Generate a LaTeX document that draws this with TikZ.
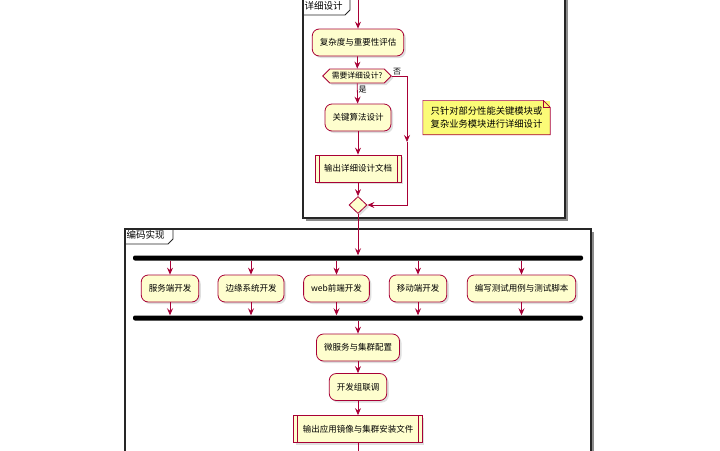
\documentclass[tikz,border=0pt]{standalone}
\usepackage{fontspec}
\setmainfont{Noto Sans CJK SC}
\usetikzlibrary{arrows.meta,shapes.geometric,shapes.symbols,shadows}
\definecolor{umlred}{HTML}{A80036}
\definecolor{umlfill}{HTML}{FEFECE}
\definecolor{notefill}{HTML}{FBFB77}
\tikzset{
  act/.style={draw=umlred, fill=umlfill, line width=0.8pt, rounded corners=7pt,
    minimum height=27pt, inner xsep=7.5pt, inner ysep=3pt,
    font=\fontsize{8.5}{10}\selectfont,
    drop shadow={shadow xshift=2pt, shadow yshift=-2pt, opacity=0.25}},
  outbox/.style={act, rounded corners=0pt, inner xsep=9pt,
    path picture={\draw[umlred, line width=0.8pt]
      ([xshift=4pt]path picture bounding box.north west) -- ([xshift=4pt]path picture bounding box.south west)
      ([xshift=-4pt]path picture bounding box.north east) -- ([xshift=-4pt]path picture bounding box.south east);}},
  choice/.style={draw=umlred, fill=umlfill, line width=0.8pt, shape=signal,
    signal to=west and east, signal pointer angle=90, inner xsep=2pt, inner ysep=1pt,
    minimum height=14pt, font=\fontsize{7.8}{9}\selectfont,
    drop shadow={shadow xshift=2pt, shadow yshift=-2pt, opacity=0.25}},
  merger/.style={draw=umlred, fill=umlfill, line width=0.8pt, shape=diamond,
    minimum width=18pt, minimum height=17pt, inner sep=0pt,
    drop shadow={shadow xshift=2pt, shadow yshift=-2pt, opacity=0.25}},
  bar/.style={fill=black, minimum width=450pt, minimum height=5pt, inner sep=0pt,
    rounded corners=2pt},
  flow/.style={draw=umlred, line width=0.8pt, -{Stealth[length=7pt, width=6pt, inset=2.5pt]}},
  link/.style={draw=umlred, line width=0.8pt},
  frame/.style={draw=black!85, line width=1.2pt, fill=white},
  framelabel/.style={anchor=north west, inner sep=1.5pt, font=\fontsize{9.5}{11}\selectfont},
  lbl/.style={font=\fontsize{8}{9}\selectfont, inner sep=1pt},
}
\begin{document}
\begin{tikzpicture}[x=1pt, y=-1pt]
  \useasboundingbox (0,0) rectangle (720,450);
  \clip (0,0) rectangle (720,450);

  % partitions
  \fill[black!45] (306,-5) rectangle (568,221);
  \draw[frame] (303,-5) rectangle (565,218);
  \draw[black!85, line width=0.8pt] (303,15) -- (345,15) -- (350,10) -- (350,-5);
  \node[framelabel] (ptop) at (303,0) {详细设计};

  \fill[black!45] (128,232) rectangle (594,470);
  \draw[frame] (125,229) rectangle (591,467);
  \draw[black!85, line width=0.8pt] (125,244) -- (168,244) -- (173,239) -- (173,229);
  \node[framelabel] (pcode) at (125,229) {编码实现};

  % detail design
  \coordinate (start) at (358,0);
  \node[act] (assess) at (358,42.5) {复杂度与重要性评估};
  \node[choice] (need) at (357,76) {需要详细设计?};
  \node[act] (algo) at (358,117.5) {关键算法设计};
  \node[outbox] (doc) at (358,168.5) {输出详细设计文档};
  \node[merger] (merge) at (358,205) {};
  \coordinate (nobend) at (407,76);
  \coordinate (nomid) at (407,142);
  \coordinate (nodown) at (407,205);

  \node[fill=notefill, align=left, inner xsep=7pt, inner ysep=3pt,
    font=\fontsize{9.3}{13}\selectfont, minimum width=127pt, minimum height=34pt]
    (note) at (486.5,117.5) {只针对部分性能关键模块或\\复杂业务模块进行详细设计};
  \draw[umlred, line width=0.6pt] (note.north west) -- ([xshift=-7pt]note.north east)
    -- ([yshift=-7pt]note.north east) -- (note.south east) -- (note.south west) -- cycle;
  \draw[umlred, line width=0.6pt] ([xshift=-7pt]note.north east) -- ([xshift=-7pt,yshift=-7pt]note.north east)
    -- ([yshift=-7pt]note.north east);

  \draw[flow] (start) -- (assess);
  \draw[flow] (assess) -- (need);
  \draw[flow] (need) -- (algo) node[lbl, pos=0.3, anchor=west] {是};
  \draw[flow] (algo) -- (doc);
  \draw[flow] (doc) -- (merge);
  \draw[flow] (need.east) -- (nobend) -- (nomid);
  \draw[flow] (nomid) -- (nodown) -- (merge.east);
  \node[lbl, anchor=south west] (nolbl) at (need.east) {否};

  % coding
  \node[bar] (forktop) at (358,258) {};
  \node[bar] (forkbot) at (358,318) {};
  \node[act] (server) at (170,288.5) {服务端开发};
  \node[act] (edge) at (251,288.5) {边缘系统开发};
  \node[act] (web) at (336.5,288.5) {web前端开发};
  \node[act] (mobile) at (418,288.5) {移动端开发};
  \node[act] (tests) at (521.5,288.5) {编写测试用例与测试脚本};
  \node[act] (micro) at (358,347.5) {微服务与集群配置};
  \node[act] (joint) at (358,387) {开发组联调};
  \node[outbox] (image) at (358,429) {输出应用镜像与集群安装文件};
  \coordinate (finish) at (358,460);

  \draw[flow] (merge) -- (forktop);
  \foreach \b in {server,edge,web,mobile,tests}{
    \draw[flow] (\b |- forktop.south) -- (\b);
    \draw[flow] (\b) -- (\b |- forkbot.north);
  }
  \draw[flow] (forkbot.south) -- (micro);
  \draw[flow] (micro) -- (joint);
  \draw[flow] (joint) -- (image);
  \draw[link] (image) -- (finish);
\end{tikzpicture}
\end{document}
